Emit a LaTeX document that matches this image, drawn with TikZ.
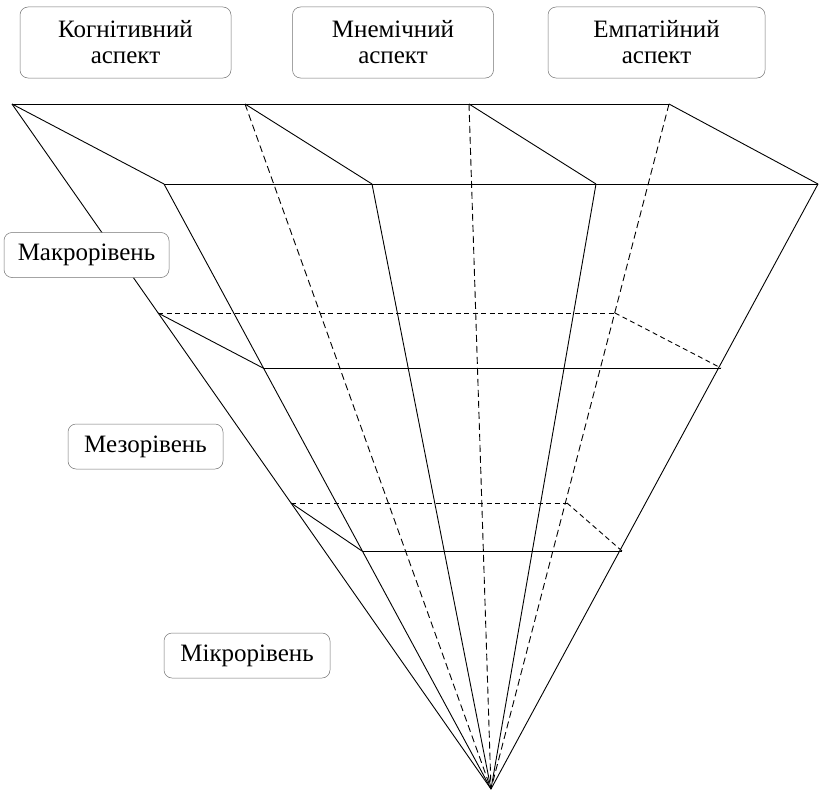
\documentclass[tikz,border=0pt]{standalone}
\usepackage{fontspec}
\setmainfont{Liberation Serif}
\newfontfamily\lblfont{Liberation Serif}
\begin{document}
\begin{tikzpicture}[x=1pt,y=-1pt,
  edge/.style={line width=0.9pt, black},
  hidden/.style={line width=0.9pt, black, dash pattern=on 7pt off 4pt},
  hdash/.style={line width=0.9pt, black, dash pattern=on 5pt off 3.5pt},
  lbl/.style={draw=black!55, line width=0.5pt, rounded corners=8pt, fill=white,
     inner sep=0pt, align=center, font=\lblfont\fontsize{25}{26}\selectfont}]
\useasboundingbox (0,0) rectangle (819,792);
% vertices
\coordinate (B1) at (12,104);
\coordinate (B2) at (245,104);
\coordinate (B3) at (469,104);
\coordinate (B4) at (669,104);
\coordinate (F1) at (164,184);
\coordinate (F2) at (372,184);
\coordinate (F3) at (596,184);
\coordinate (F4) at (818,184);
\coordinate (A) at (491,789);
\coordinate (MB1) at (158,313);
\coordinate (MB4) at (615,313);
\coordinate (MF1) at (263,368);
\coordinate (MF4) at (721,368);
\coordinate (LB1) at (291,503);
\coordinate (LB4) at (567,503);
\coordinate (LF1) at (362,551);
\coordinate (LF4) at (622,551);
% top
\draw[edge] (B1) -- (B4);
\draw[edge] (F1) -- (F4);
\draw[edge] (B1) -- (F1);
\draw[edge] (B2) -- (F2);
\draw[edge] (B3) -- (F3);
\draw[edge] (B4) -- (F4);
% edges to apex
\draw[edge] (B1) -- (A);
\draw[hidden] (B2) -- (A);
\draw[hidden] (B3) -- (A);
\draw[hidden] (B4) -- (A);
\draw[edge] (F1) -- (A);
\draw[edge] (F2) -- (A);
\draw[edge] (F3) -- (A);
\draw[edge] (F4) -- (A);
% middle level
\draw[hdash] (MB1) -- (MB4);
\draw[hdash] (MB4) -- (MF4);
\draw[edge] (MB1) -- (MF1);
\draw[edge] (MF1) -- (MF4);
% lower level
\draw[hdash] (LB1) -- (LB4);
\draw[hdash] (LB4) -- (LF4);
\draw[edge] (LB1) -- (LF1);
\draw[edge] (LF1) -- (LF4);
% labels
\node[lbl, minimum width=211pt, minimum height=71pt] (cog) at (125.5,42.5) {Когнітивний\\аспект};
\node[lbl, minimum width=201pt, minimum height=71pt] (mne) at (393,42.5) {Мнемічний\\аспект};
\node[lbl, minimum width=217pt, minimum height=71pt] (emp) at (656.5,42.5) {Емпатійний\\аспект};
\node[lbl, minimum width=165pt, minimum height=45pt] (macro) at (86.5,255) {Макрорівень};
\node[lbl, minimum width=155pt, minimum height=45pt] (meso) at (145.5,446.5) {Мезорівень};
\node[lbl, minimum width=166pt, minimum height=45pt] (micro) at (247,655.5) {Мікрорівень};
\end{tikzpicture}
\end{document}
